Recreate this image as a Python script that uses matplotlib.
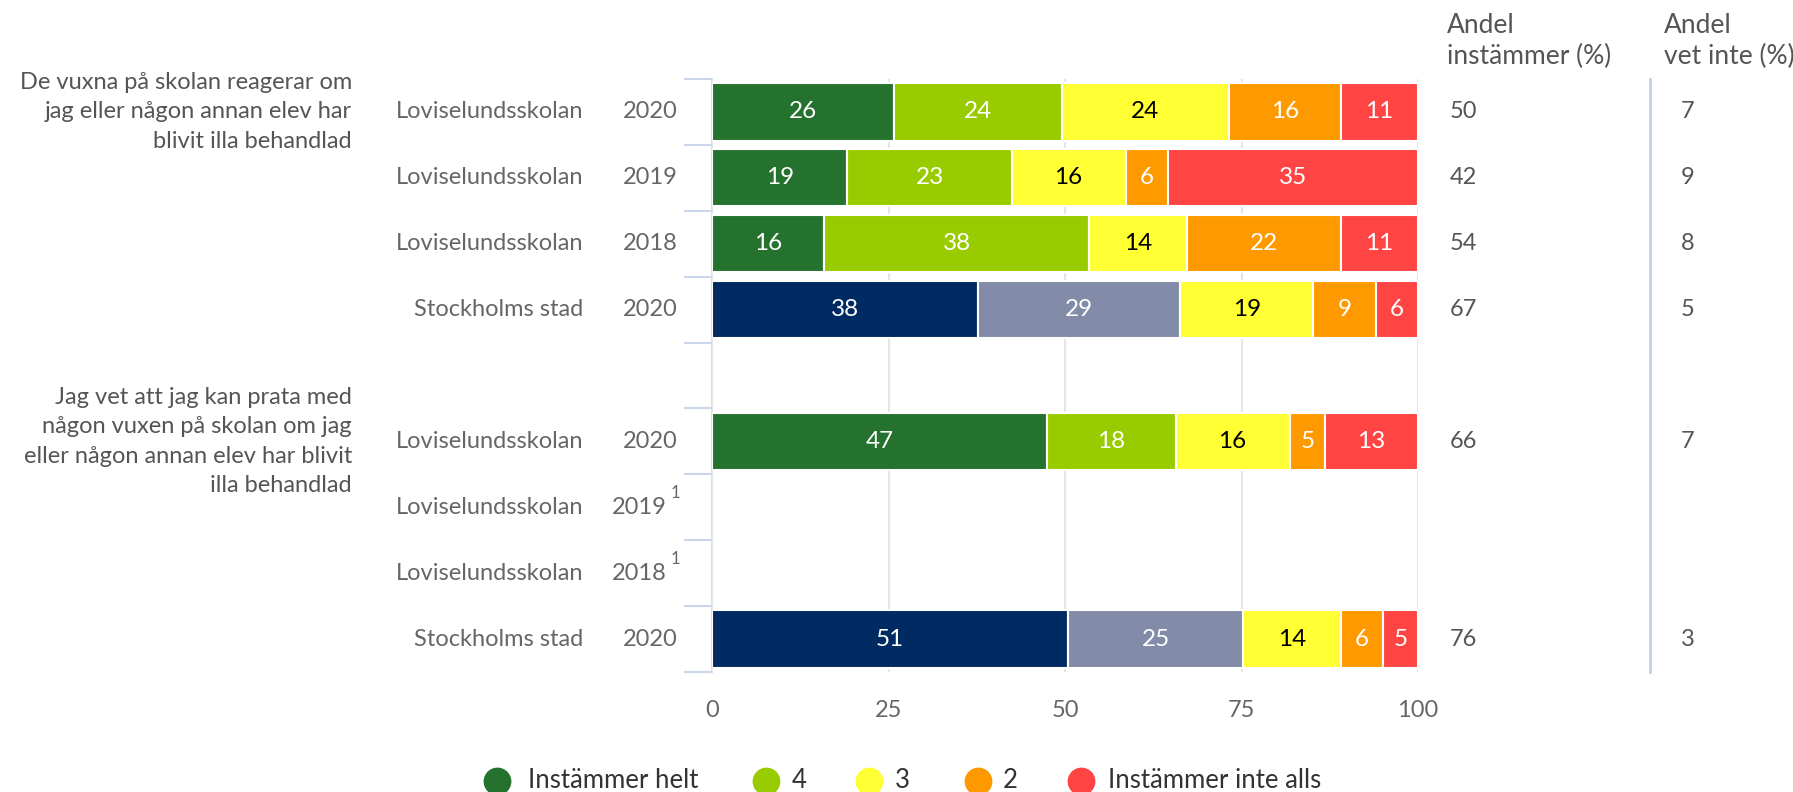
import matplotlib
matplotlib.use("Agg")
import matplotlib.pyplot as plt
from matplotlib.lines import Line2D
import numpy as np

plt.rcParams['font.family'] = ['Lato', 'DejaVu Sans']

# data
questions = ["De vuxna på skolan reagerar om\njag eller någon annan elev har\nblivit illa behandlad",
             "Jag vet att jag kan prata med\nnågon vuxen på skolan om jag\neller någon annan elev har blivit\nilla behandlad"]
units = ["Loviselundsskolan", "Loviselundsskolan", "Loviselundsskolan", "Stockholms stad", "",
         "Loviselundsskolan", "Loviselundsskolan", "Loviselundsskolan", "Stockholms stad"]
years = ["2020", "2019", "2018", "2020", "", "2020", "2019", "2018", "2020"]
footnote = [False, False, False, False, False, False, True, True, False]
series_names = ["Instämmer helt", "4", "3", "2", "Instämmer inte alls"]
values = [
    [26, 24, 24, 16, 11],
    [19, 23, 16, 6, 35],
    [16, 38, 14, 22, 11],
    [38, 29, 19, 9, 6],
    None,
    [47, 18, 16, 5, 13],
    None,
    None,
    [51, 25, 14, 6, 5],
]
andel_inst = ["50", "42", "54", "67", "", "66", "", "", "76"]
andel_vet = ["7", "9", "8", "5", "", "7", "", "", "3"]
is_city = [False, False, False, True, False, False, False, False, True]

school_colors = ["#25722E", "#99CC00", "#FFFF33", "#FF9900", "#FF4444"]
city_colors = ["#002B62", "#828CA8", "#FFFF33", "#FF9900", "#FF4444"]
dark_text = [False, False, True, False, False]

FS = 17
W, H = 1793, 792
fig = plt.figure(figsize=(W / 100, H / 100), dpi=100)
ax_l, ax_r, ax_t, ax_b = 712, 1418, 79, 672
ax = fig.add_axes([ax_l / W, 1 - ax_b / H, (ax_r - ax_l) / W, (ax_b - ax_t) / H])

def axx(px):
    return (px - ax_l) / (ax_r - ax_l)

n = len(units)
for i, row in enumerate(values):
    if row is None:
        continue
    total = sum(row)
    cols = city_colors if is_city[i] else school_colors
    left = 0
    for j, v in enumerate(row):
        w = v / total * 100
        ax.barh(i, w, left=left, height=0.87, color=cols[j], edgecolor="white", linewidth=1.5, zorder=3)
        ax.text(left + w / 2, i, str(v), ha="center", va="center", fontsize=FS + 0.5,
                color="black" if dark_text[j] else "white", zorder=4)
        left += w

ax.set_xlim(0, 100)
ax.set_ylim(n - 0.5, -0.5)
ax.set_xticks([0, 25, 50, 75, 100])
ax.tick_params(axis="x", length=0, pad=20, labelsize=FS, labelcolor="#666666")
ax.set_yticks(np.arange(-0.5, n, 1))
ax.set_yticklabels([])
ax.tick_params(axis="y", length=20, width=1.5, color="#CCD6EB")
ax.grid(axis="x", color="#E6E6E6", linewidth=1.5, zorder=0)
for s in ["top", "right", "bottom"]:
    ax.spines[s].set_visible(False)
ax.spines["left"].set_color("#E0E0E0")
ax.spines["left"].set_linewidth(1.5)
ax.spines["left"].set_zorder(1)

ytr = ax.get_yaxis_transform()
for i in range(n):
    if units[i]:
        ax.text(axx(583), i, units[i], transform=ytr, ha="right", va="center",
                fontsize=FS, color="#666666")
    if years[i]:
        if footnote[i]:
            ax.text(axx(667), i, years[i], transform=ytr, ha="right", va="center",
                    fontsize=FS, color="#666666")
            ax.text(axx(671), i - 0.22, "1", transform=ytr, ha="left", va="center",
                    fontsize=12, color="#666666")
        else:
            ax.text(axx(678), i, years[i], transform=ytr, ha="right", va="center",
                    fontsize=FS, color="#666666")
    if andel_inst[i]:
        ax.text(axx(1450), i, andel_inst[i], transform=ytr, ha="left", va="center",
                fontsize=FS, color="#555555")
    if andel_vet[i]:
        ax.text(axx(1681), i, andel_vet[i], transform=ytr, ha="left", va="center",
                fontsize=FS, color="#555555")

q_rows = [0, 5]
for q, r in zip(questions, q_rows):
    ax.text(axx(352), r, q, transform=ytr, ha="right", va="center", fontsize=FS,
            color="#555555", linespacing=1.5)

fig.text(1447 / W, 1 - 41 / H, "Andel\ninstämmer (%)", ha="left", va="center",
         fontsize=19, color="#555555", linespacing=1.3)
fig.text(1664 / W, 1 - 41 / H, "Andel\nvet inte (%)", ha="left", va="center",
         fontsize=19, color="#555555", linespacing=1.3)

ax.plot([axx(1650), axx(1650)], [0, 1], transform=ax.transAxes, color="#C5D0E8",
        linewidth=2, clip_on=False)

# legend
mk_x = [497, 766, 869, 978, 1081]
tx_x = [528, 792, 895, 1003, 1108]
ly = 1 - 781 / H
for j, name in enumerate(series_names):
    fig.add_artist(Line2D([mk_x[j] / W], [ly], marker="o", markersize=19, color=school_colors[j],
                          linestyle="none", transform=fig.transFigure))
    fig.text(tx_x[j] / W, ly, name, ha="left", va="center", fontsize=18.5, color="#333333")

fig.savefig("out.png", dpi=100)
